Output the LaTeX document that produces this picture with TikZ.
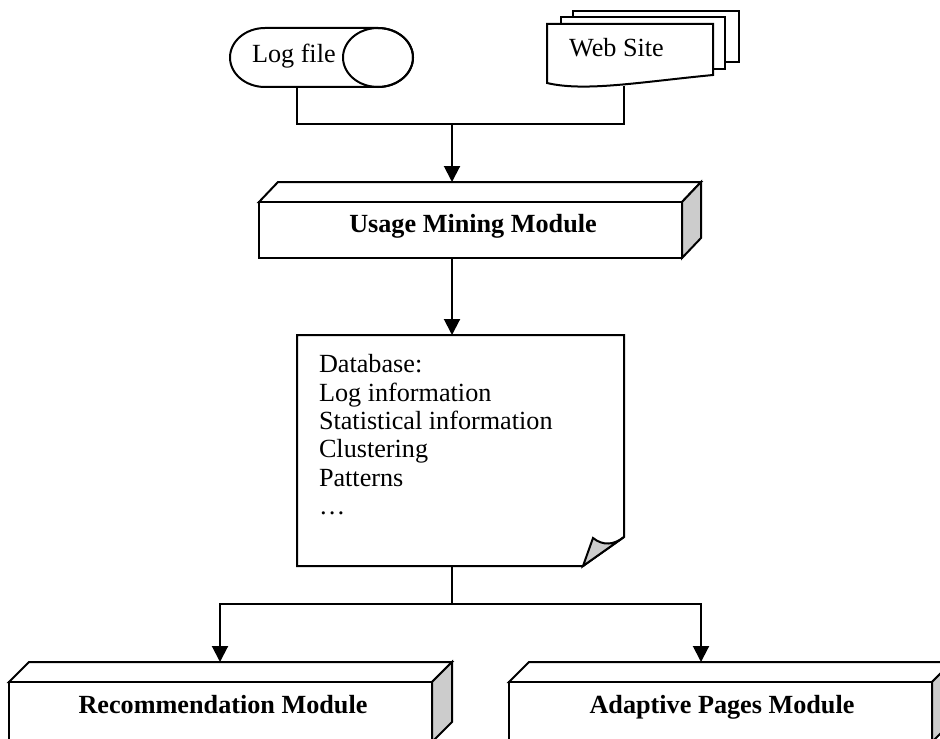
\documentclass[tikz,border=0pt]{standalone}
\usepackage{fontspec}
\setmainfont{Liberation Serif}
\usetikzlibrary{arrows.meta}
\definecolor{sidegray}{RGB}{204,204,204}
\begin{document}
\begin{tikzpicture}[x=0.5pt,y=-0.5pt, line width=1pt, line join=miter,
  arr/.style={-{Triangle[length=8pt,width=8pt]}},
  facefill/.style={draw=black, fill=white},
  sidefill/.style={draw=black, fill=sidegray},
  lbl/.style={font=\fontsize{13.1}{14.2}\selectfont, inner sep=0pt},
  blbl/.style={font=\fontsize{13.1}{14.2}\selectfont\bfseries, inner sep=0pt}]
\clip (0,0) rectangle (940,738);
\fill[white] (0,0) rectangle (940,738);

% ---- Log file (direct access storage)
\draw[facefill] (265,28) -- (378,28)
   arc[start angle=90,end angle=-90,x radius=17.5pt,y radius=14.75pt]
   -- (265,87)
   arc[start angle=270,end angle=90,x radius=17.5pt,y radius=14.75pt] -- cycle;
\draw (378,57.5) ellipse [x radius=17.5pt, y radius=14.75pt];
\node[lbl, anchor=base west] (log) at (251,63) {Log file};

% ---- Web Site (multi-document)
\draw[facefill] (573,11) rectangle (739,62);
\draw[facefill] (561,17) rectangle (725,69);
\draw[facefill] (547,24) -- (713,24) -- (713,75)
   .. controls (640,82) and (585,92) .. (547,83) -- cycle;
\node[lbl, anchor=base] (web) at (616.5,57) {Web Site};

% ---- connectors top
\coordinate (logb) at (297,87);
\coordinate (webb) at (624,86);
\coordinate (j1) at (452,124);
\coordinate (umtop) at (452,182);
\draw (logb) |- (j1) -| (webb);
\draw[arr] (j1) -- (umtop);

% ---- Usage Mining Module box
\draw[facefill] (259,202) -- (278,182) -- (701,182) -- (682,202) -- cycle;
\draw[sidefill] (682,202) -- (701,182) -- (701,238) -- (682,258) -- cycle;
\draw[facefill] (259,202) rectangle (682,258);
\node[blbl, anchor=base] (um) at (473,232) {Usage Mining Module};

\coordinate (umbot) at (452,258);
\coordinate (dbtop) at (452,335);
\draw[arr] (umbot) -- (dbtop);

% ---- Database (document with folded corner)
\draw[facefill] (297,335) -- (624,335) -- (624,537) -- (583,566) -- (297,566) -- cycle;
\draw[sidefill] (583,566) -- (593,538) .. controls (603,546) and (614,545) .. (624,537) -- cycle;
\node[lbl, anchor=north west, align=left] (db) at (318,353.5)
  {Database:\\Log information\\Statistical information\\Clustering\\Patterns\\…};

% ---- connectors bottom
\coordinate (dbbot) at (452,566);
\coordinate (j2) at (452,604);
\coordinate (rectop) at (220,662);
\coordinate (adatop) at (701,662);
\draw[line width=0.6pt] (dbbot) -- (j2);
\draw[arr] (j2) -| (rectop);
\draw[arr] (j2) -| (adatop);

% ---- Recommendation Module box
\draw[facefill] (9,682) -- (29,662) -- (452,662) -- (432,682) -- cycle;
\draw[sidefill] (432,682) -- (452,662) -- (452,722) -- (432,742) -- cycle;
\draw[facefill] (9,682) rectangle (432,742);
\node[blbl, anchor=base] (rec) at (223,713) {Recommendation Module};

% ---- Adaptive Pages Module box
\draw[facefill] (509,682) -- (529,662) -- (952,662) -- (932,682) -- cycle;
\draw[sidefill] (932,682) -- (952,662) -- (952,722) -- (932,742) -- cycle;
\draw[facefill] (509,682) rectangle (932,742);
\node[blbl, anchor=base] (ada) at (722,713) {Adaptive Pages Module};
\end{tikzpicture}
\end{document}
